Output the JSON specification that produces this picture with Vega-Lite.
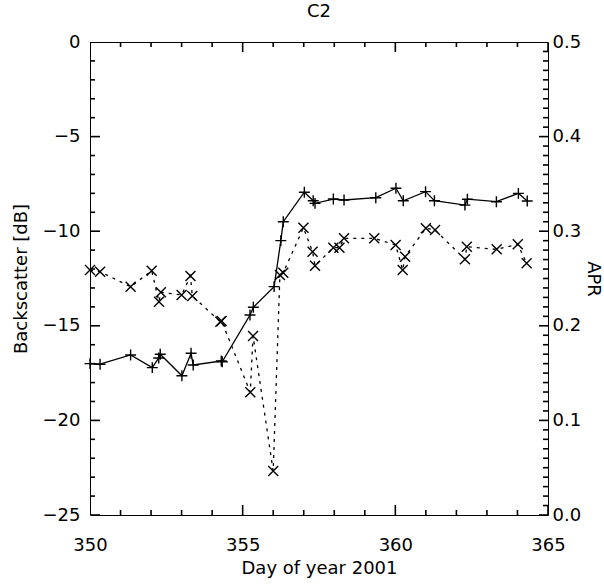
{
  "$schema": "https://vega.github.io/schema/vega-lite/v6.json",
  "width": 458,
  "height": 473,
  "autosize": "none",
  "padding": {"left": 90, "top": 42, "right": 56, "bottom": 69},
  "background": "white",
  "config": {
    "view": {"stroke": "black", "strokeWidth": 1},
    "font": "DejaVu Sans",
    "axis": {
      "domain": false, "grid": false, "ticks": false,
      "labelColor": "black", "titleColor": "black", "labelFont": "DejaVu Sans",
      "labelFontSize": 18, "titleFont": "DejaVu Sans", "titleFontSize": 18,
      "titleFontWeight": "normal", "labelFlush": false, "labelOverlap": false
    }
  },
  "title": {"text": "C2", "fontSize": 18, "font": "DejaVu Sans", "fontWeight": "normal", "color": "black", "offset": 12},
  "datasets": {
    "bs": [
      {"day": 350.0, "db": -17.0}, {"day": 350.33, "db": -17.03}, {"day": 351.33, "db": -16.54},
      {"day": 352.04, "db": -17.21}, {"day": 352.25, "db": -16.7}, {"day": 352.3, "db": -16.5},
      {"day": 353.01, "db": -17.64}, {"day": 353.31, "db": -16.45}, {"day": 353.38, "db": -17.07},
      {"day": 354.3, "db": -16.86}, {"day": 354.33, "db": -16.9}, {"day": 355.24, "db": -14.43},
      {"day": 355.35, "db": -14.02}, {"day": 356.03, "db": -12.93}, {"day": 356.25, "db": -10.5},
      {"day": 356.33, "db": -9.5}, {"day": 357.02, "db": -7.94}, {"day": 357.31, "db": -8.39},
      {"day": 357.37, "db": -8.53}, {"day": 357.97, "db": -8.3}, {"day": 358.32, "db": -8.35},
      {"day": 359.36, "db": -8.23}, {"day": 360.02, "db": -7.73}, {"day": 360.26, "db": -8.39},
      {"day": 360.99, "db": -7.91}, {"day": 361.28, "db": -8.39}, {"day": 362.28, "db": -8.62},
      {"day": 362.36, "db": -8.31}, {"day": 363.31, "db": -8.44}, {"day": 364.03, "db": -8.0},
      {"day": 364.32, "db": -8.4}
    ],
    "apr": [
      {"day": 350.0, "apr": 0.259}, {"day": 350.33, "apr": 0.2572}, {"day": 351.33, "apr": 0.2413},
      {"day": 352.02, "apr": 0.2582}, {"day": 352.26, "apr": 0.2255}, {"day": 352.32, "apr": 0.2354},
      {"day": 353.0, "apr": 0.2326}, {"day": 353.29, "apr": 0.2526}, {"day": 353.35, "apr": 0.2315},
      {"day": 354.27, "apr": 0.2043}, {"day": 354.31, "apr": 0.205}, {"day": 355.25, "apr": 0.1297},
      {"day": 355.34, "apr": 0.1892}, {"day": 356.0, "apr": 0.0465}, {"day": 356.22, "apr": 0.2537},
      {"day": 356.33, "apr": 0.2561}, {"day": 356.99, "apr": 0.3037}, {"day": 357.29, "apr": 0.2783},
      {"day": 357.37, "apr": 0.2635}, {"day": 357.97, "apr": 0.2826}, {"day": 358.17, "apr": 0.2826},
      {"day": 358.32, "apr": 0.2925}, {"day": 359.31, "apr": 0.2925}, {"day": 360.01, "apr": 0.2854},
      {"day": 360.24, "apr": 0.259}, {"day": 360.32, "apr": 0.2731}, {"day": 361.0, "apr": 0.3031},
      {"day": 361.3, "apr": 0.3013}, {"day": 362.28, "apr": 0.2703}, {"day": 362.34, "apr": 0.2836},
      {"day": 363.32, "apr": 0.2808}, {"day": 364.01, "apr": 0.2861}, {"day": 364.3, "apr": 0.2661}
    ],
    "xticks": [{"v": 350}, {"v": 351}, {"v": 352}, {"v": 353}, {"v": 354}, {"v": 355}, {"v": 356}, {"v": 357}, {"v": 358}, {"v": 359}, {"v": 360}, {"v": 361}, {"v": 362}, {"v": 363}, {"v": 364}, {"v": 365}],
    "yticks": [{"v": -25}, {"v": -24}, {"v": -23}, {"v": -22}, {"v": -21}, {"v": -20}, {"v": -19}, {"v": -18}, {"v": -17}, {"v": -16}, {"v": -15}, {"v": -14}, {"v": -13}, {"v": -12}, {"v": -11}, {"v": -10}, {"v": -9}, {"v": -8}, {"v": -7}, {"v": -6}, {"v": -5}, {"v": -4}, {"v": -3}, {"v": -2}, {"v": -1}, {"v": 0}],
    "aticks": [{"v": 0}, {"v": 0.01}, {"v": 0.02}, {"v": 0.03}, {"v": 0.04}, {"v": 0.05}, {"v": 0.06}, {"v": 0.07}, {"v": 0.08}, {"v": 0.09}, {"v": 0.1}, {"v": 0.11}, {"v": 0.12}, {"v": 0.13}, {"v": 0.14}, {"v": 0.15}, {"v": 0.16}, {"v": 0.17}, {"v": 0.18}, {"v": 0.19}, {"v": 0.2}, {"v": 0.21}, {"v": 0.22}, {"v": 0.23}, {"v": 0.24}, {"v": 0.25}, {"v": 0.26}, {"v": 0.27}, {"v": 0.28}, {"v": 0.29}, {"v": 0.3}, {"v": 0.31}, {"v": 0.32}, {"v": 0.33}, {"v": 0.34}, {"v": 0.35}, {"v": 0.36}, {"v": 0.37}, {"v": 0.38}, {"v": 0.39}, {"v": 0.4}, {"v": 0.41}, {"v": 0.42}, {"v": 0.43}, {"v": 0.44}, {"v": 0.45}, {"v": 0.46}, {"v": 0.47}, {"v": 0.48}, {"v": 0.49}, {"v": 0.5}]
  },
  "layer": [
    {
      "data": {"name": "bs"},
      "mark": {"type": "line", "color": "black", "strokeWidth": 1.3},
      "encoding": {
        "x": {"field": "day", "type": "quantitative", "scale": {"domain": [350, 365], "nice": false, "zero": false},
              "axis": {"orient": "bottom", "values": [350, 355, 360, 365], "labelPadding": 21, "title": "Day of year 2001", "titlePadding": 5}},
        "y": {"field": "db", "type": "quantitative", "scale": {"domain": [-25, 0], "nice": false, "zero": false},
              "axis": {"orient": "left", "values": [-25, -20, -15, -10, -5, 0], "labelPadding": 10, "title": "Backscatter [dB]", "titlePadding": 12}}
      }
    },
    {
      "data": {"name": "bs"},
      "mark": {"type": "point", "shape": "M-1,0L1,0M0,-1L0,1", "size": 120, "filled": false, "stroke": "black", "strokeWidth": 1.4, "opacity": 1},
      "encoding": {
        "x": {"field": "day", "type": "quantitative", "scale": {"domain": [350, 365], "nice": false, "zero": false}, "axis": null},
        "y": {"field": "db", "type": "quantitative", "scale": {"domain": [-25, 0], "nice": false, "zero": false}, "axis": null}
      }
    },
    {
      "data": {"name": "apr"},
      "mark": {"type": "line", "color": "black", "strokeWidth": 1.3, "strokeDash": [3, 5]},
      "encoding": {
        "x": {"field": "day", "type": "quantitative", "scale": {"domain": [350, 365], "nice": false, "zero": false}, "axis": null},
        "y": {"field": "apr", "type": "quantitative", "scale": {"domain": [0, 0.5], "nice": false, "zero": false},
              "axis": {"orient": "right", "values": [0, 0.1, 0.2, 0.3, 0.4, 0.5], "format": ".1f", "labelPadding": 4, "title": "APR", "titlePadding": 3}}
      }
    },
    {
      "data": {"name": "apr"},
      "mark": {"type": "point", "shape": "M-1,-1L1,1M-1,1L1,-1", "size": 100, "filled": false, "stroke": "black", "strokeWidth": 1.4, "opacity": 1},
      "encoding": {
        "x": {"field": "day", "type": "quantitative", "scale": {"domain": [350, 365], "nice": false, "zero": false}, "axis": null},
        "y": {"field": "apr", "type": "quantitative", "scale": {"domain": [0, 0.5], "nice": false, "zero": false}, "axis": null}
      }
    },
    {
      "data": {"name": "xticks"},
      "mark": {"type": "tick", "orient": "vertical", "clip": true, "color": "black", "thickness": 1.6, "opacity": 1},
      "encoding": {
        "x": {"field": "v", "type": "quantitative", "scale": {"domain": [350, 365], "nice": false, "zero": false}, "axis": null},
        "y": {"datum": -25, "type": "quantitative", "scale": {"domain": [-25, 0], "nice": false, "zero": false}, "axis": null},
        "size": {"condition": {"test": "datum.v % 5 === 0", "value": 20}, "value": 10}
      }
    },
    {
      "data": {"name": "xticks"},
      "mark": {"type": "tick", "orient": "vertical", "clip": true, "color": "black", "thickness": 1.6, "opacity": 1},
      "encoding": {
        "x": {"field": "v", "type": "quantitative", "scale": {"domain": [350, 365], "nice": false, "zero": false}, "axis": null},
        "y": {"datum": 0, "type": "quantitative", "scale": {"domain": [-25, 0], "nice": false, "zero": false}, "axis": null},
        "size": {"condition": {"test": "datum.v % 5 === 0", "value": 20}, "value": 10}
      }
    },
    {
      "data": {"name": "yticks"},
      "mark": {"type": "tick", "orient": "horizontal", "clip": true, "color": "black", "thickness": 1.6, "opacity": 1},
      "encoding": {
        "x": {"datum": 350, "type": "quantitative", "scale": {"domain": [350, 365], "nice": false, "zero": false}, "axis": null},
        "y": {"field": "v", "type": "quantitative", "scale": {"domain": [-25, 0], "nice": false, "zero": false}, "axis": null},
        "size": {"condition": {"test": "datum.v % 5 === 0", "value": 20}, "value": 10}
      }
    },
    {
      "data": {"name": "aticks"},
      "mark": {"type": "tick", "orient": "horizontal", "clip": true, "color": "black", "thickness": 1.6, "opacity": 1},
      "encoding": {
        "x": {"datum": 365, "type": "quantitative", "scale": {"domain": [350, 365], "nice": false, "zero": false}, "axis": null},
        "y": {"field": "v", "type": "quantitative", "scale": {"domain": [0, 0.5], "nice": false, "zero": false}, "axis": null},
        "size": {"condition": {"test": "abs(datum.v * 10 - round(datum.v * 10)) < 0.000001", "value": 18}, "value": 10}
      }
    },
    {
      "mark": {"type": "text", "align": "left", "baseline": "middle", "fontSize": 18, "font": "DejaVu Sans", "color": "black", "text": "Backscatter (__+__)"},
      "encoding": {
        "x": {"datum": 351.97, "type": "quantitative", "scale": {"domain": [350, 365], "nice": false, "zero": false}, "axis": null},
        "y": {"datum": -1.5, "type": "quantitative", "scale": {"domain": [-25, 0], "nice": false, "zero": false}, "axis": null}
      }
    },
    {
      "mark": {"type": "text", "align": "left", "baseline": "middle", "fontSize": 18, "font": "DejaVu Sans", "color": "black", "text": "APR (...x...)"},
      "encoding": {
        "x": {"datum": 351.97, "type": "quantitative", "scale": {"domain": [350, 365], "nice": false, "zero": false}, "axis": null},
        "y": {"datum": -3.35, "type": "quantitative", "scale": {"domain": [-25, 0], "nice": false, "zero": false}, "axis": null}
      }
    }
  ],
  "resolve": {"scale": {"y": "independent"}, "axis": {"x": "independent", "y": "independent"}}
}
